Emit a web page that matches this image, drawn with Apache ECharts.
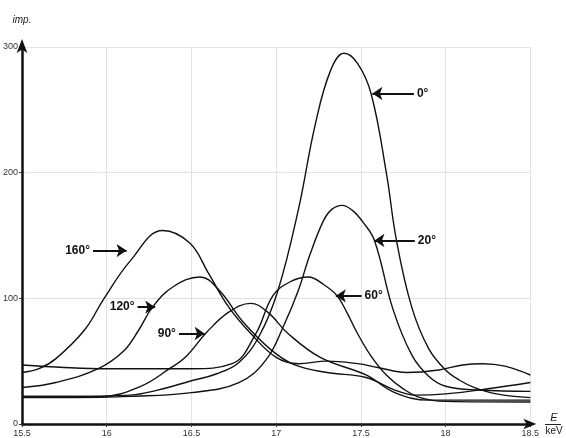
<!DOCTYPE html>
<html>
<head>
<meta charset="utf-8">
<script src="https://cdn.jsdelivr.net/npm/echarts@6/dist/echarts.min.js"></script>
<style>
  html, body { margin: 0; padding: 0; background: #fff; }
  #chart { width: 566px; height: 438px; }
</style>
</head>
<body>
<div id="chart"></div>
<script>
// energy (keV) / intensity (imp.) pairs, one curve per scattering angle
const deg0 = [[15.5, 22], [15.8, 22], [16.14, 23], [16.3, 27], [16.49, 34], [16.65, 40], [16.78, 49], [16.9, 70], [17.01, 106], [17.13, 170], [17.23, 238], [17.32, 281], [17.4, 295], [17.48, 287], [17.56, 263], [17.65, 200], [17.71, 146], [17.8, 93], [17.9, 60], [18.0, 43], [18.08, 35], [18.17, 29], [18.3, 24], [18.5, 21]]
const deg20 = [[15.5, 21], [15.8, 21], [16.14, 22], [16.5, 25], [16.78, 33], [16.94, 51], [17.05, 80], [17.13, 106], [17.2, 135], [17.28, 162], [17.33, 171], [17.39, 174], [17.45, 170], [17.51, 161], [17.58, 146], [17.69, 91], [17.8, 55], [17.9, 38], [18.0, 30], [18.2, 27], [18.5, 26]]
const deg60 = [[15.5, 47], [15.75, 45], [16.0, 44], [16.5, 44], [16.74, 48], [16.88, 72], [16.98, 102], [17.08, 113], [17.19, 117], [17.28, 111], [17.36, 102], [17.42, 88], [17.48, 72], [17.56, 54], [17.65, 39], [17.75, 28], [17.85, 21], [18.0, 18], [18.5, 17.5]]
const deg90 = [[15.5, 22], [15.97, 22], [16.2, 30], [16.37, 44], [16.47, 54], [16.59, 73], [16.72, 89], [16.85, 96], [16.95, 89], [17.07, 72], [17.26, 53], [17.53, 39], [17.7, 25], [17.9, 19], [18.5, 19]]
const deg120 = [[15.5, 29], [15.7, 33], [15.95, 44], [16.1, 58], [16.19, 75], [16.27, 93], [16.39, 109], [16.55, 117], [16.66, 107], [16.8, 82], [16.97, 59], [17.11, 47], [17.3, 41], [17.53, 37], [17.7, 27], [17.82, 23], [18.0, 24], [18.25, 28], [18.5, 33]]
const deg160 = [[15.5, 41], [15.6, 44], [15.7, 52], [15.87, 75], [15.98, 99], [16.14, 130], [16.33, 154], [16.49, 144], [16.6, 120], [16.72, 93], [16.85, 72], [17.0, 53], [17.13, 48], [17.3, 50], [17.48, 48], [17.6, 45], [17.77, 41], [17.96, 43], [18.1, 47], [18.22, 48], [18.35, 46], [18.5, 39]]

const curves = [deg0, deg20, deg60, deg90, deg120, deg160]

const xTicks = [15.5, 16, 16.5, 17, 17.5, 18, 18.5]
const yTicks = [0, 100, 200, 300]

// angle labels with arrows (tail -> tip, data coordinates)
const notes = [
  { text: '0°', from: [17.813, 263], to: [17.568, 263] },
  { text: '20°', from: [17.818, 146], to: [17.58, 146] },
  { text: '60°', from: [17.504, 102], to: [17.352, 102] },
  { text: '160°', from: [15.919, 138], to: [16.117, 138] },
  { text: '120°', from: [16.182, 93], to: [16.286, 93] },
  { text: '90°', from: [16.426, 72], to: [16.578, 72] }
]

const chart = echarts.init(document.getElementById('chart'))

const axisFont = { fontFamily: 'Liberation Sans Narrow, Liberation Sans, Arial', fontSize: 9, color: '#333' }

chart.setOption({
  backgroundColor: '#fff',
  animation: false,
  grid: { left: 20, right: 31, top: 47, bottom: 14 },
  xAxis: {
    type: 'value',
    min: xTicks[0],
    max: xTicks[xTicks.length - 1],
    interval: 0.5,
    name: '{e|E}\n{l|}\n{k|keV}',
    nameLocation: 'end',
    nameGap: 13,
    nameTextStyle: {
      rich: {
        e: { fontFamily: 'Liberation Sans', fontStyle: 'italic', fontSize: 11, color: '#222', align: 'center', width: 18, lineHeight: 12 },
        l: { width: 16, height: 1, backgroundColor: '#222', lineHeight: 2 },
        k: { fontFamily: 'Liberation Sans Narrow, Liberation Sans', fontSize: 10, color: '#222', align: 'center', width: 18, lineHeight: 11 }
      }
    },
    axisLine: {
      lineStyle: { color: '#111', width: 2.5 },
      symbol: ['none', 'arrow'],
      symbolSize: [8, 13],
      symbolOffset: [0, 6]
    },
    axisTick: { show: true, length: 3, lineStyle: { color: '#333' } },
    axisLabel: Object.assign({ margin: 5 }, axisFont),
    splitLine: { show: true, lineStyle: { color: '#e9dfe3', width: 1 } }
  },
  yAxis: {
    type: 'value',
    min: yTicks[0],
    max: yTicks[yTicks.length - 1],
    interval: 100,
    name: 'imp.',
    nameLocation: 'end',
    nameGap: 22,
    nameTextStyle: { fontFamily: 'Liberation Sans', fontStyle: 'italic', fontSize: 10, color: '#222' },
    axisLine: {
      lineStyle: { color: '#111', width: 2.5 },
      symbol: ['none', 'arrow'],
      symbolSize: [8, 14],
      symbolOffset: [0, 8]
    },
    axisTick: { show: true, length: 3, lineStyle: { color: '#333' } },
    axisLabel: Object.assign({ margin: 4 }, axisFont),
    splitLine: { show: true, lineStyle: { color: '#e9dfe3', width: 1 } }
  },
  series: curves.map(function (c, i) {
    const s = {
      type: 'line',
      data: c,
      smooth: 0.4,
      symbol: 'none',
      lineStyle: { color: '#111', width: 1.4 }
    }
    if (i === 0) {
      s.markLine = {
        silent: true,
        animation: false,
        symbol: ['none', 'arrow'],
        symbolSize: 10,
        lineStyle: { color: '#111', width: 2, type: 'solid' },
        label: {
          show: true,
          position: 'start',
          distance: 3,
          fontFamily: 'Liberation Sans',
          fontWeight: 'bold',
          fontSize: 12,
          color: '#111'
        },
        data: notes.map(function (n) {
          return [
            { coord: n.from, name: n.text, symbol: 'none', label: { formatter: n.text } },
            { coord: n.to, symbol: 'arrow', symbolSize: 10 }
          ]
        })
      }
    }
    return s
  })
})
</script>
</body>
</html>
